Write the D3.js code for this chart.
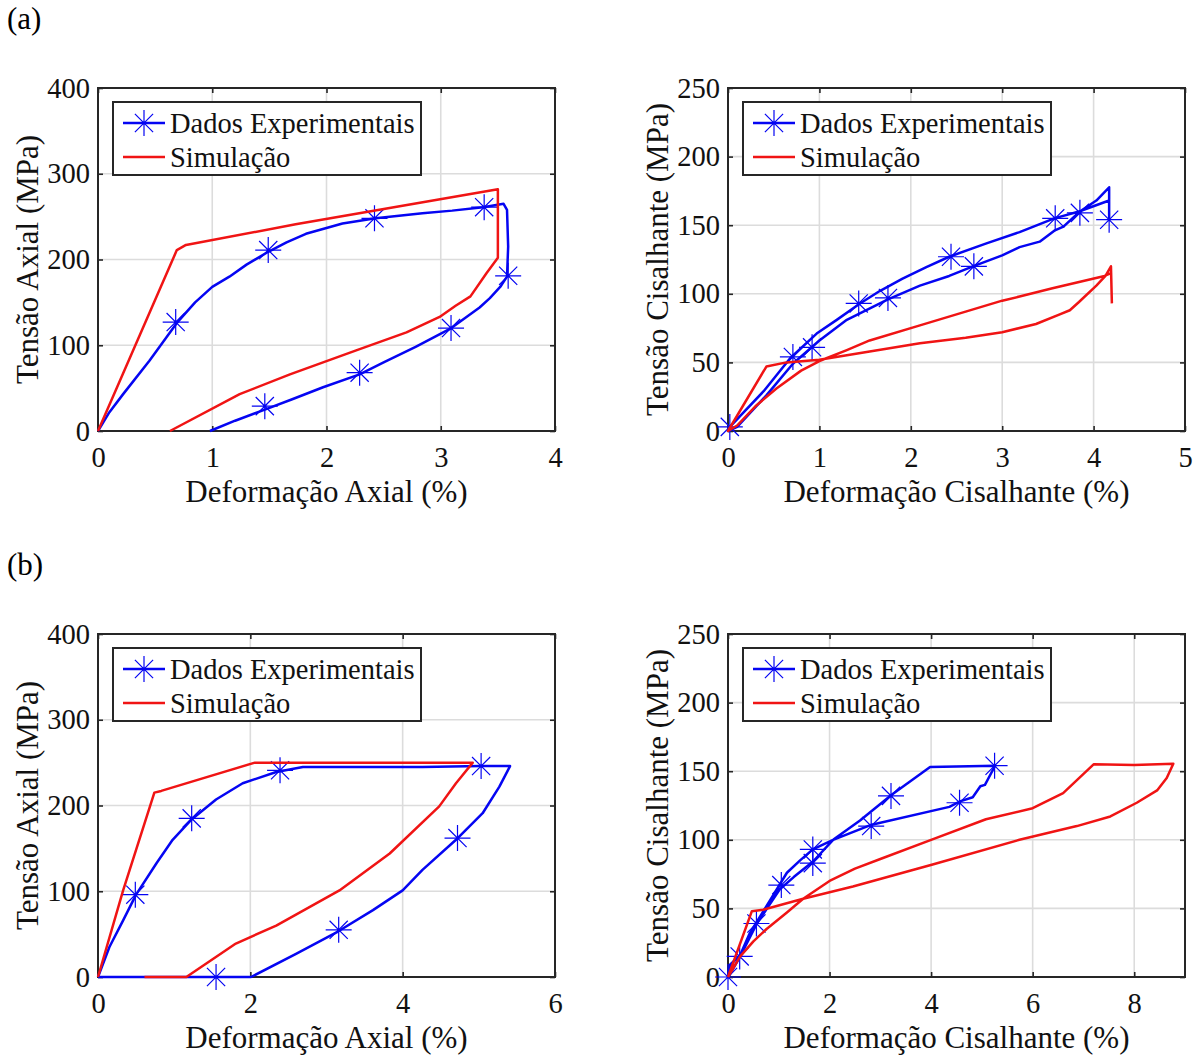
<!DOCTYPE html>
<html>
<head>
<meta charset="utf-8">
<script src="https://cdn.jsdelivr.net/npm/d3@7"></script>
<style>
  body { margin: 0; background: #fff; }
  svg { display: block; }
</style>
</head>
<body>
<script>
// Stress-strain loops, (a) and (b): axial on the left, shear on the right

// (a) axial
const aAxialExpStrain = [0, 0.1, 0.22, 0.45, 0.69, 0.85, 1.0, 1.15, 1.3, 1.49, 1.65, 1.82, 2.14, 2.43, 2.84, 3.1, 3.37, 3.55, 3.58, 3.59, 3.58, 3.52, 3.43, 3.34, 3.08, 2.78, 2.5, 2.29, 1.97, 1.7, 1.46, 1.2, 0.98];
const aAxialExpStress = [0, 22, 43, 82, 126, 150, 168, 180, 194, 209, 220, 230, 242, 248, 254, 257, 261, 265, 258, 215, 180, 168, 155, 144, 119, 98, 80, 66, 51, 37, 25, 12, 0];
const aAxialMarkStrain = [0.68, 1.49, 2.42, 3.38, 3.59, 3.09, 2.29, 1.46];
const aAxialMarkStress = [127, 211, 248, 261, 181, 120, 68, 29];
const aAxialSimStrain = [0, 0.69, 0.77, 1.73, 3.5, 3.5, 3.4, 3.26, 3.13, 2.99, 2.7, 2.26, 1.68, 1.24, 0.63];
const aAxialSimStress = [0, 211, 217, 241, 282, 202, 184, 157, 146, 133, 115, 94, 66, 43, 0];

// (a) shear
const aShearExpStrain = [4.17, 4.17, 4.03, 3.85, 3.67, 3.57, 3.41, 3.19, 3.0, 2.68, 2.42, 2.1, 1.75, 1.3, 1.0, 0.71, 0.42, 0.1, 0, 0.02, 0.39, 0.68, 0.97, 1.19, 1.44, 1.66, 1.91, 2.17, 2.42, 2.82, 3.19, 3.57, 3.84, 4.17];
const aShearExpStress = [154, 177.6, 168, 160, 149, 146, 138, 134, 128, 120, 113, 106, 96, 81, 66, 49, 26, 3, 0, 3, 29, 53, 71, 81, 92.7, 102, 111, 119.5, 127, 136.6, 145, 155, 160, 168];
const aShearMarkStrain = [0.02, 0.71, 0.92, 1.43, 1.75, 2.44, 2.69, 3.58, 3.85, 4.17];
const aShearMarkStress = [3, 54, 61, 93, 97, 127, 120, 155, 159, 154];
const aShearSimStrain = [4.2, 4.19, 4.13, 4.03, 3.84, 3.74, 3.63, 3.37, 3.0, 2.6, 2.1, 1.55, 1.0, 0.64, 0.42, 0, 0.1, 0.3, 0.53, 0.8, 1.0, 1.3, 1.55, 2.1, 2.6, 3.0, 3.19, 3.55, 4.12, 4.19];
const aShearSimStress = [93, 120, 113, 106, 94, 88, 85, 78, 72, 68, 64, 58, 52, 50, 47, 0, 4, 18, 31, 44, 51, 59, 66, 77, 87, 95, 98, 104, 113, 115];

// (b) axial
const bAxialExpStrain = [0, 0.15, 0.33, 0.5, 0.77, 0.98, 1.22, 1.55, 1.9, 2.34, 2.69, 3.39, 4.26, 5.03, 5.41, 5.27, 5.05, 4.7, 4.26, 4.0, 3.61, 3.15, 2.6, 2.01, 1.55, 0];
const bAxialExpStress = [0, 35, 66, 96, 133, 160, 183, 207, 226, 239, 245, 245, 245, 246, 246, 222, 191, 160, 125, 101, 78, 53, 27, 0, 0, 0];
const bAxialMarkStrain = [0.49, 1.23, 2.39, 5.03, 4.72, 3.16, 1.55];
const bAxialMarkStress = [96, 185, 241, 246, 162, 55, 0];
const bAxialSimStrain = [0, 0.33, 0.74, 0.83, 2.06, 4.92, 4.7, 4.48, 3.83, 3.17, 2.34, 1.81, 1.16, 0.61];
const bAxialSimStress = [0, 101, 215, 217, 250, 250, 226, 199, 144, 101, 60, 39, 0, 0];

// (b) shear
const bShearExpStrain = [0, 0.04, 0.24, 0.43, 0.83, 1.16, 1.42, 1.67, 2.07, 2.6, 3.23, 3.98, 5.26, 5.06, 4.97, 4.82, 4.57, 4.36, 2.83, 2.07, 1.67, 1.3, 1.02, 0.57, 0.24, 0.04, 0];
const bShearExpStress = [0, 9, 16, 32, 56, 76, 85, 93, 100, 114, 133, 153, 154, 140, 139, 131, 128, 124, 111, 100, 84, 73, 64, 39, 15, 2, 0];
const bShearMarkStrain = [0, 0.23, 0.56, 1.05, 1.67, 1.67, 2.82, 3.21, 4.56, 5.25];
const bShearMarkStress = [0, 15, 39, 67, 93, 83, 110, 132, 127, 154];
const bShearSimStrain = [0, 0.24, 0.5, 0.76, 1.16, 1.48, 2.0, 2.5, 3.0, 4.0, 5.08, 6.0, 6.6, 7.2, 8.0, 8.77, 8.64, 8.45, 8.05, 7.53, 6.87, 5.74, 4.03, 2.46, 1.48, 0.69, 0.47, 0];
const bShearSimStress = [0, 15, 26, 35, 47, 57, 70, 79, 86, 100, 115, 123, 134, 155, 154.5, 155.5, 145, 136, 127, 117, 110, 100, 82, 66, 57, 49, 48, 0];

// ticks and labels
const axialTicksA = [0, 1, 2, 3, 4];
const shearTicksA = [0, 1, 2, 3, 4, 5];
const axialTicksB = [0, 2, 4, 6];
const shearTicksB = [0, 2, 4, 6, 8];
const axialStressTicks = [0, 100, 200, 300, 400];
const shearStressTicks = [0, 50, 100, 150, 200, 250];
const axialStrainLabel = "Deformação Axial (%)";
const shearStrainLabel = "Deformação Cisalhante (%)";
const axialStressLabel = "Tensão Axial (MPa)";
const shearStressLabel = "Tensão Cisalhante (MPa)";
const legendLabels = ["Dados Experimentais", "Simulação"];
const panelLetters = ["(a)", "(b)"];

const FONT = "'Liberation Serif', 'Times New Roman', serif";
const BLUE = "#0505f2";
const RED = "#f01414";
const AXIS = "#262626";

const zip = (xs, ys) => xs.map((x, i) => ({x: x, y: ys[i]}));

let svg = null;

appendSvg("body");
appendPanelLetters();
[
  {left: 98, top: 88, xMax: 4, yMax: 400, xTicks: axialTicksA, yTicks: axialStressTicks,
   xLabel: axialStrainLabel, yLabel: axialStressLabel,
   exp: zip(aAxialExpStrain, aAxialExpStress), marks: zip(aAxialMarkStrain, aAxialMarkStress),
   sim: zip(aAxialSimStrain, aAxialSimStress)},
  {left: 728, top: 88, xMax: 5, yMax: 250, xTicks: shearTicksA, yTicks: shearStressTicks,
   xLabel: shearStrainLabel, yLabel: shearStressLabel,
   exp: zip(aShearExpStrain, aShearExpStress), marks: zip(aShearMarkStrain, aShearMarkStress),
   sim: zip(aShearSimStrain, aShearSimStress)},
  {left: 98, top: 634, xMax: 6, yMax: 400, xTicks: axialTicksB, yTicks: axialStressTicks,
   xLabel: axialStrainLabel, yLabel: axialStressLabel,
   exp: zip(bAxialExpStrain, bAxialExpStress), marks: zip(bAxialMarkStrain, bAxialMarkStress),
   sim: zip(bAxialSimStrain, bAxialSimStress)},
  {left: 728, top: 634, xMax: 9, yMax: 250, xTicks: shearTicksB, yTicks: shearStressTicks,
   xLabel: shearStrainLabel, yLabel: shearStressLabel,
   exp: zip(bShearExpStrain, bShearExpStress), marks: zip(bShearMarkStrain, bShearMarkStress),
   sim: zip(bShearSimStrain, bShearSimStress)}
].forEach(drawPanel);

function appendSvg(domElement) {
  svg = d3.select(domElement).append("svg")
    .attr("width", 1199)
    .attr("height", 1059)
    .style("font-family", FONT);
  svg.append("rect").attr("width", 1199).attr("height", 1059).attr("fill", "#fff");
}

function appendPanelLetters() {
  svg.selectAll(".letter")
    .data(panelLetters)
    .enter()
    .append("text")
    .attr("class", "letter")
    .attr("x", 7)
    .attr("y", (d, i) => 29 + i * 546)
    .attr("font-size", 31)
    .text(d => d);
}

// asterisk marker, like matlab's '*'
function starPath(r) {
  const d = r * 0.7;
  return `M${-r},0H${r}M0,${-r}V${r}M${-d},${-d}L${d},${d}M${-d},${d}L${d},${-d}`;
}

function drawPanel(p) {
  const width = 457, height = 343;
  const g = svg.append("g").attr("transform", `translate(${p.left},${p.top})`);

  const x = d3.scaleLinear().domain([0, p.xMax]).range([0, width]);
  const y = d3.scaleLinear().domain([0, p.yMax]).range([height, 0]);
  const fmt = d3.format("d");

  // grid
  g.append("g").selectAll("line")
    .data(p.xTicks.filter(t => t > 0 && t < p.xMax))
    .enter().append("line")
    .attr("x1", d => x(d)).attr("x2", d => x(d))
    .attr("y1", 0).attr("y2", height)
    .attr("stroke", "#dcdcdc").attr("stroke-width", 1.6);
  g.append("g").selectAll("line")
    .data(p.yTicks.filter(t => t > 0 && t < p.yMax))
    .enter().append("line")
    .attr("x1", 0).attr("x2", width)
    .attr("y1", d => y(d)).attr("y2", d => y(d))
    .attr("stroke", "#dcdcdc").attr("stroke-width", 1.6);

  // box and inward ticks on all four sides
  const bottom = g.append("g").attr("transform", `translate(0,${height})`)
    .call(d3.axisBottom(x).tickValues(p.xTicks).tickFormat(fmt)
      .tickSizeInner(-5).tickSizeOuter(0).tickPadding(16));
  const left = g.append("g")
    .call(d3.axisLeft(y).tickValues(p.yTicks).tickFormat(fmt)
      .tickSizeInner(-5).tickSizeOuter(0).tickPadding(8));
  g.append("g")
    .call(d3.axisTop(x).tickValues(p.xTicks).tickSizeInner(-5).tickSizeOuter(0).tickFormat(""));
  g.append("g").attr("transform", `translate(${width},0)`)
    .call(d3.axisRight(y).tickValues(p.yTicks).tickSizeInner(-5).tickSizeOuter(0).tickFormat(""));
  g.selectAll(".domain").remove();
  g.selectAll(".tick line").attr("stroke", AXIS).attr("stroke-width", 1.6);
  [bottom, left].forEach(a => a.selectAll("text")
    .attr("font-family", FONT).attr("font-size", 28.5).attr("fill", "#111"));
  g.append("rect")
    .attr("width", width).attr("height", height)
    .attr("fill", "none").attr("stroke", AXIS).attr("stroke-width", 2);

  // axis titles
  g.append("text")
    .attr("x", width / 2).attr("y", height + 71)
    .attr("text-anchor", "middle").attr("font-size", 31).attr("fill", "#111")
    .text(p.xLabel);
  g.append("text")
    .attr("transform", `translate(-60,${height / 2}) rotate(-90)`)
    .attr("text-anchor", "middle").attr("font-size", 31).attr("fill", "#111")
    .text(p.yLabel);

  const line = d3.line().x(d => x(d.x)).y(d => y(d.y));

  // experimental curve with its markers
  g.append("path").datum(p.exp)
    .attr("d", line)
    .attr("fill", "none").attr("stroke", BLUE).attr("stroke-width", 2.5)
    .attr("stroke-linejoin", "round");
  g.selectAll(".mark")
    .data(p.marks)
    .enter().append("path")
    .attr("class", "mark")
    .attr("transform", d => `translate(${x(d.x)},${y(d.y)})`)
    .attr("d", starPath(13))
    .attr("fill", "none").attr("stroke", BLUE).attr("stroke-width", 1.2);

  // simulated curve
  g.append("path").datum(p.sim)
    .attr("d", line)
    .attr("fill", "none").attr("stroke", RED).attr("stroke-width", 2.5)
    .attr("stroke-linejoin", "round");

  appendLegend(g);
}

function appendLegend(g) {
  const lg = g.append("g").attr("transform", "translate(15,14)");
  lg.append("rect")
    .attr("width", 308).attr("height", 73)
    .attr("fill", "#fff").attr("stroke", AXIS).attr("stroke-width", 2);

  const items = lg.selectAll(".item")
    .data(legendLabels)
    .enter().append("g")
    .attr("class", "item")
    .attr("transform", (d, i) => `translate(0,${21 + i * 34})`);

  items.append("line")
    .attr("x1", 10).attr("x2", 52)
    .attr("stroke", (d, i) => i === 0 ? BLUE : RED)
    .attr("stroke-width", 2.5);
  items.filter((d, i) => i === 0).append("path")
    .attr("transform", "translate(31,0)")
    .attr("d", starPath(13))
    .attr("fill", "none").attr("stroke", BLUE).attr("stroke-width", 1.2);
  items.append("text")
    .attr("x", 57).attr("dy", "0.34em")
    .attr("font-size", 28.5).attr("fill", "#111")
    .text(d => d);
}
</script>
</body>
</html>
